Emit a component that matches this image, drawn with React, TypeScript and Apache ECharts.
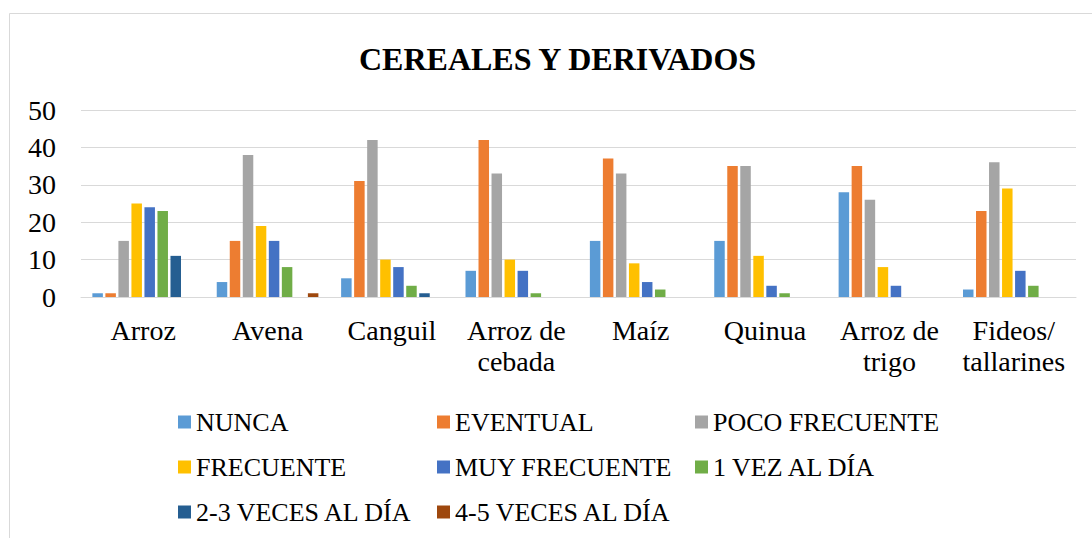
import React, { useEffect, useRef } from "react";
import * as echarts from "echarts";

const categories = [
  "Arroz",
  "Avena",
  "Canguil",
  "Arroz de\ncebada",
  "Maíz",
  "Quinua",
  "Arroz de\ntrigo",
  "Fideos/\ntallarines",
];

const seriesNames = [
  "NUNCA",
  "EVENTUAL",
  "POCO FRECUENTE",
  "FRECUENTE",
  "MUY FRECUENTE",
  "1 VEZ AL DÍA",
  "2-3 VECES AL DÍA",
  "4-5 VECES AL DÍA",
];

const nunca = [1, 4, 5, 7, 15, 15, 28, 2];
const eventual = [1, 15, 31, 42, 37, 35, 35, 23];
const pocoFrecuente = [15, 38, 42, 33, 33, 35, 26, 36];
const frecuente = [25, 19, 10, 10, 9, 11, 8, 29];
const muyFrecuente = [24, 15, 8, 7, 4, 3, 3, 7];
const unaVez = [23, 8, 3, 1, 2, 1, 0, 3];
const dosTres = [11, 0, 1, 0, 0, 0, 0, 0];
const cuatroCinco = [0, 1, 0, 0, 0, 0, 0, 0];

const seriesValues = [nunca, eventual, pocoFrecuente, frecuente, muyFrecuente, unaVez, dosTres, cuatroCinco];

const colors = ["#5B9BD5", "#ED7D31", "#A5A5A5", "#FFC000", "#4472C4", "#70AD47", "#255E91", "#9E480E"];

const yTicks = { min: 0, max: 50, interval: 10 };

const FONT = "Times New Roman, Liberation Serif, serif";

export default function App() {
  const ref = useRef<HTMLDivElement>(null);

  useEffect(() => {
    document.body.style.margin = "0";
    if (!ref.current) return;
    const chart = echarts.init(ref.current, null, { renderer: "svg" });

    const legendCol = (items: string[], left: number) => ({
      orient: "vertical",
      left,
      top: 409,
      padding: 0,
      itemWidth: 13,
      itemHeight: 13,
      itemGap: 19,
      icon: "rect",
      data: items,
      textStyle: { fontFamily: FONT, fontSize: 26, lineHeight: 26, color: "#000" },
    });

    chart.setOption({
      animation: false,
      color: colors,
      textStyle: { fontFamily: FONT },
      title: {
        text: "CEREALES Y DERIVADOS",
        left: 359,
        top: 43,
        padding: 0,
        textStyle: { fontFamily: FONT, fontSize: 32, lineHeight: 32, fontWeight: "bold", color: "#000" },
      },
      graphic: [
        {
          type: "rect",
          shape: { x: 9.5, y: 13.5, width: 1200, height: 700 },
          style: { fill: "none", stroke: "#D9D9D9", lineWidth: 1 },
          silent: true,
        },
      ],
      legend: [
        legendCol([seriesNames[0], seriesNames[3], seriesNames[6]], 178),
        legendCol([seriesNames[1], seriesNames[4], seriesNames[7]], 437),
        legendCol([seriesNames[2], seriesNames[5]], 695),
      ],
      grid: { left: 81, right: 16, top: 110, bottom: 241, containLabel: false },
      xAxis: {
        type: "category",
        data: categories,
        axisLine: { show: true, lineStyle: { color: "#D9D9D9", width: 1 } },
        axisTick: { show: false },
        axisLabel: {
          interval: 0,
          margin: 18,
          fontFamily: FONT,
          fontSize: 28,
          lineHeight: 31,
          color: "#000",
        },
      },
      yAxis: {
        type: "value",
        min: yTicks.min,
        max: yTicks.max,
        interval: yTicks.interval,
        axisLine: { show: false },
        axisTick: { show: false },
        splitLine: { lineStyle: { color: "#D9D9D9", width: 1 } },
        axisLabel: { margin: 25, fontFamily: FONT, fontSize: 28, color: "#000" },
      },
      series: seriesNames.map((name, i) => ({
        name,
        type: "bar",
        data: seriesValues[i],
        barWidth: 10.5,
        barGap: "24%",
        itemStyle: { color: colors[i] },
      })),
    });

    return () => chart.dispose();
  }, []);

  return <div ref={ref} style={{ width: 1092, height: 538 }} />;
}
